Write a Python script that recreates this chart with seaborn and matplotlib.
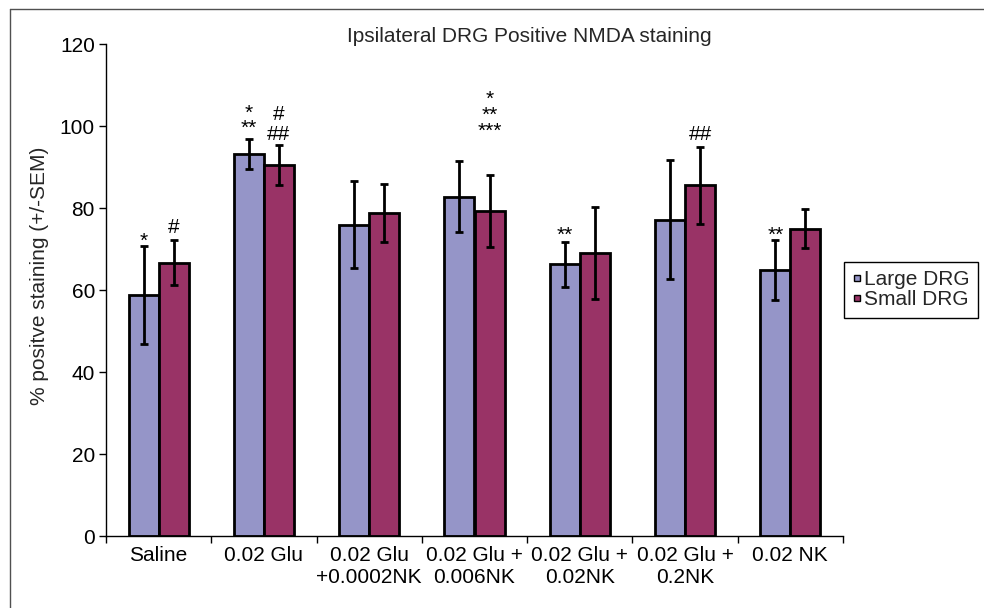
import numpy as np
import pandas as pd
import matplotlib
matplotlib.use("Agg")
import matplotlib.pyplot as plt
from matplotlib.lines import Line2D
import seaborn as sns

# ---- data ----
categories = ["Saline", "0.02 Glu", "0.02 Glu\n+0.0002NK", "0.02 Glu +\n0.006NK",
              "0.02 Glu +\n0.02NK", "0.02 Glu +\n0.2NK", "0.02 NK"]
series_names = ["Large DRG", "Small DRG"]
large_vals = [58.8, 93.1, 75.9, 82.8, 66.3, 77.1, 64.9]
large_sem = [12.0, 3.7, 10.6, 8.7, 5.5, 14.5, 7.4]
small_vals = [66.7, 90.4, 78.8, 79.3, 69.0, 85.5, 75.0]
small_sem = [5.6, 4.9, 7.0, 8.8, 11.2, 9.3, 4.7]
y_ticks = [0, 20, 40, 60, 80, 100, 120]

# significance labels: (category index, series index, text, bottom y, line spacing)
sig_labels = [
    (0, 0, "*", 69.6, 1.0),
    (0, 1, "#", 72.9, 1.0),
    (1, 0, "*\n**", 97.2, 0.74),
    (1, 1, "#\n##", 95.6, 1.05),
    (3, 1, "*\n**\n***", 96.5, 0.8),
    (4, 0, "**", 71.1, 1.0),
    (5, 1, "##", 95.6, 1.0),
    (6, 0, "**", 71.1, 1.0),
]

colors = ["#9595C8", "#993366"]

sns.set_theme(style="white")
plt.rcParams["font.family"] = ["Liberation Sans", "DejaVu Sans"]

df = pd.DataFrame({
    "Treatment": categories * 2,
    "Group": [series_names[0]] * len(categories) + [series_names[1]] * len(categories),
    "Value": large_vals + small_vals,
})

fig = plt.figure(figsize=(9.84, 6.08), dpi=100)
ax = fig.add_axes([106 / 984, 1 - 536 / 608, 737 / 984, 492 / 608])

sns.barplot(data=df, x="Treatment", y="Value", hue="Group", order=categories,
            hue_order=series_names, palette=colors, saturation=1, width=0.57,
            edgecolor="black", linewidth=2, errorbar=None, legend=False, ax=ax)

# error bars from bar positions
sems = [large_sem, small_sem]
centers = []
for i, cont in enumerate(ax.containers[:2]):
    xs = [p.get_x() + p.get_width() / 2 for p in cont.patches]
    hs = [p.get_height() for p in cont.patches]
    centers.append(xs)
    ax.errorbar(xs, hs, yerr=sems[i], fmt="none", ecolor="black",
                elinewidth=2, capsize=2.6, capthick=2, zorder=5)

for ci, si, txt, yv, ls in sig_labels:
    ax.text(centers[si][ci], yv, txt, ha="center", va="bottom", multialignment="center",
            linespacing=ls, fontsize=15, color="black", zorder=6)

ax.set_xlim(-0.5, len(categories) - 0.5)
ax.set_ylim(0, 120)
ax.set_yticks(y_ticks)
ax.set_yticklabels([str(t) for t in y_ticks])
ax.set_xticks(range(len(categories)))
ax.set_xticklabels(categories)
ax.set_xticks(np.arange(-0.5, len(categories), 1), minor=True)
ax.tick_params(axis="x", which="major", length=0, pad=7, labelsize=15, colors="black")
ax.tick_params(axis="x", which="minor", length=5, width=1, direction="out",
               bottom=True, color="black")
ax.tick_params(axis="y", which="major", length=5, width=1, direction="out",
               left=True, pad=3, labelsize=15, colors="black")
for lbl in ax.get_xticklabels():
    lbl.set_linespacing(1.2)
ax.set_xlabel("")
ax.set_ylabel("")
sns.despine(ax=ax, top=True, right=True)
for s in ["left", "bottom"]:
    ax.spines[s].set_color("black")
    ax.spines[s].set_linewidth(1)

fig.text(40 / 984, 1 - 276 / 608, "% positve staining (+/-SEM)", rotation=90,
         ha="center", va="center", fontsize=15)
fig.text(529.5 / 984, 1 - 36 / 608, "Ipsilateral DRG Positive NMDA staining",
         ha="center", va="center", fontsize=15)

handles = [Line2D([0], [0], marker="s", linestyle="none", markersize=4.5,
                  markerfacecolor=c, markeredgecolor="black", markeredgewidth=1)
           for c in colors]
leg = fig.legend(handles, series_names, loc="upper left",
                 bbox_to_anchor=(844 / 984, 1 - 262 / 608), fontsize=15,
                 frameon=True, fancybox=False, edgecolor="black", framealpha=1,
                 handlelength=0.45, handletextpad=0.12, labelspacing=0.05,
                 borderpad=0.4, borderaxespad=0)
leg.get_frame().set_linewidth(1)

# outer frame lines (left and top)
fig.add_artist(Line2D([9.5 / 984, 9.5 / 984], [0, 1 - 9 / 608],
                      transform=fig.transFigure, color="#505050", lw=1))
fig.add_artist(Line2D([9.5 / 984, 1], [1 - 9 / 608, 1 - 9 / 608],
                      transform=fig.transFigure, color="#505050", lw=1))

fig.savefig("out.png", dpi=100)
